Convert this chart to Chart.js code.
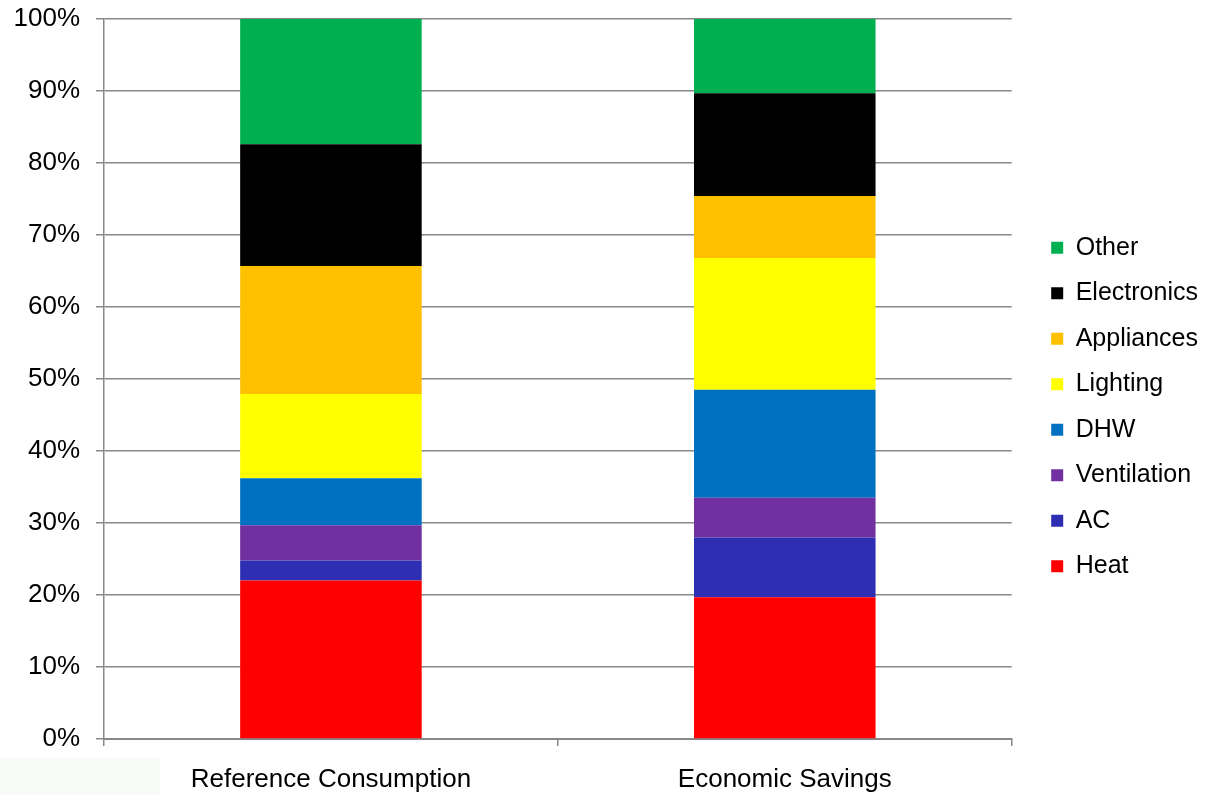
<!DOCTYPE html>
<html>
<head>
<meta charset="utf-8">
<script src="https://cdn.jsdelivr.net/npm/chart.js@4"></script>
<style>
  html, body { margin: 0; padding: 0; background: #fff; }
  #wrap { position: relative; width: 1207px; height: 795px; }
  #smudge { position: absolute; left: 0; top: 758px; width: 160px; height: 37px; background: #f6fbf6; }
  #chart { position: absolute; left: 0; top: 0; }
</style>
</head>
<body>
<div id="wrap">
  <div id="smudge"></div>
  <canvas id="chart" width="1207" height="795" style="width:1207px;height:795px"></canvas>
</div>
<script>
const categories = ['Reference Consumption', 'Economic Savings'];

const heat        = [22.0, 19.7];
const ac          = [2.8, 8.3];
const ventilation = [4.9, 5.5];
const dhw         = [6.5, 15.0];
const lighting    = [11.7, 18.3];
const appliances  = [17.8, 8.6];
const electronics = [16.9, 14.3];
const other       = [17.4, 10.3];

const yTicks = [0, 10, 20, 30, 40, 50, 60, 70, 80, 90, 100];

const series = [
    { label: 'Heat', data: heat, color: '#ff0000' },
    { label: 'AC', data: ac, color: '#2e2eb2' },
    { label: 'Ventilation', data: ventilation, color: '#7030a0' },
    { label: 'DHW', data: dhw, color: '#0070c0' },
    { label: 'Lighting', data: lighting, color: '#ffff00' },
    { label: 'Appliances', data: appliances, color: '#ffc000' },
    { label: 'Electronics', data: electronics, color: '#000000' },
    { label: 'Other', data: other, color: '#00b050' }
];

const family = '"Liberation Sans", Arial, sans-serif';
const axisFont = { family: family, size: 26 };
const legendFont = { family: family, size: 25 };
const gray = '#888888';

// the legend sits a bit further right of the plot than chart.js puts it
const legendNudge = {
    id: 'legendNudge',
    afterLayout(chart) {
        chart.legend.left += 19;
        chart.legend.right += 19;
    }
};

new Chart(document.getElementById('chart').getContext('2d'), {
    type: 'bar',
    data: {
        labels: categories,
        datasets: series.map(s => ({
            label: s.label,
            data: s.data,
            backgroundColor: s.color,
            borderWidth: 0,
            barPercentage: 0.4,
            categoryPercentage: 1
        }))
    },
    plugins: [legendNudge],
    options: {
        responsive: false,
        animation: false,
        devicePixelRatio: 1,
        layout: { padding: { left: 0, top: 19, right: 18, bottom: 0 } },
        plugins: {
            tooltip: { enabled: false },
            legend: {
                position: 'right',
                reverse: true,
                labels: {
                    boxWidth: 12,
                    boxHeight: 12,
                    padding: 20.5,
                    color: '#000',
                    font: legendFont
                }
            }
        },
        scales: {
            x: {
                stacked: true,
                offset: true,
                grid: { drawOnChartArea: false, offset: true, color: gray, tickLength: 7, lineWidth: 1.5 },
                border: { color: gray, width: 2 },
                ticks: { color: '#000', font: axisFont, padding: 18, maxRotation: 0 },
                afterFit: axis => {
                    axis.height = 56;
                    axis.paddingLeft = 0;
                    axis.paddingRight = 0;
                }
            },
            y: {
                stacked: true,
                min: 0,
                max: 100,
                afterBuildTicks: axis => { axis.ticks = yTicks.map(v => ({ value: v })); },
                grid: { color: gray, lineWidth: 1.5, tickLength: 8 },
                border: { color: gray, width: 1.5 },
                ticks: { color: '#000', font: axisFont, padding: 16, callback: v => v + '%' },
                afterFit: axis => {
                    axis.width = 104;
                    axis.paddingTop = 0;
                    axis.paddingBottom = 0;
                }
            }
        }
    }
});
</script>
</body>
</html>
